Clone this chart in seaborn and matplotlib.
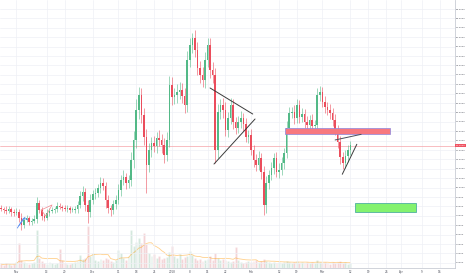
import numpy as np
import pandas as pd
import matplotlib
matplotlib.use("Agg")
import matplotlib.pyplot as plt
import matplotlib.transforms as mtransforms
import seaborn as sns

# ---- data (daily candles, day 0 = 2017-10-26) ----
first_open = 7.80
closes = [7.73, 7.62, 7.51, 7.73, 7.41, 7.30, 7.41, 6.77, 6.02, 6.56,
          6.77, 6.34, 6.45, 6.66, 8.36, 7.62, 6.98, 6.77, 7.30, 7.51,
          7.62, 7.73, 8.05, 7.94, 7.83, 7.73, 7.83, 7.62, 7.62, 7.73,
          8.15, 9.11, 9.53, 8.15, 7.41, 8.68, 9.32, 9.43, 9.96, 10.49,
          10.17, 8.68, 7.83, 7.62, 8.26, 8.68, 9.75, 10.81, 11.13, 10.49,
          10.81, 12.94, 15.07, 18.26, 19.85, 17.72, 15.39, 12.41, 14.00, 14.75,
          14.43, 15.28, 15.07, 14.53, 13.47, 15.07, 20.92, 19.64, 19.85, 20.17,
          20.39, 19.75, 18.79, 23.58, 25.17, 25.92, 24.64, 22.73, 21.98, 21.45,
          23.58, 25.17, 22.51, 21.98, 14.00, 18.05, 18.79, 18.26, 16.13, 17.41,
          18.79, 16.98, 16.34, 16.98, 17.41, 16.77, 15.39, 15.60, 14.00, 12.94,
          12.41, 13.15, 11.66, 8.15, 10.49, 11.34, 12.09, 13.15, 11.66, 11.87,
          12.62, 13.68, 16.34, 17.94, 18.05, 17.41, 18.79, 17.51, 17.83, 16.98,
          16.66, 17.19, 16.56, 16.66, 19.85, 20.17, 19.11, 18.58, 18.26, 17.94,
          17.19, 16.13, 14.85, 13.26, 12.62, 13.36, 14.00, 14.53]
wick_hi = [0.3, 0.2, 0.4, 0.3, 0.2, 0.3, 0.4, 0.3, 0.5, 0.3,
           0.3, 0.2, 0.3, 0.4, 0.6, 0.3, 0.3, 0.2, 0.4, 0.3,
           0.3, 0.2, 0.4, 0.3, 0.2, 0.3, 0.3, 0.2, 0.3, 0.3,
           0.4, 0.5, 0.6, 0.4, 0.5, 0.6, 0.4, 0.5, 0.4, 0.6,
           0.5, 0.4, 0.5, 0.3, 0.4, 0.5, 0.6, 0.5, 0.7, 0.4,
           0.5, 0.8, 1.0, 1.2, 0.9, 0.8, 0.7, 0.9, 0.8, 0.6,
           0.7, 0.6, 0.8, 0.6, 0.7, 0.9, 1.0, 0.8, 0.7, 0.9,
           0.8, 0.7, 0.9, 1.0, 0.8, 0.5, 0.9, 0.8, 0.7, 0.9,
           0.8, 0.7, 0.8, 0.9, 0.7, 0.8, 0.6, 0.7, 0.8, 0.6,
           0.7, 0.6, 0.5, 0.6, 0.7, 0.5, 0.6, 0.5, 0.6, 0.5,
           0.6, 0.7, 0.5, 0.6, 0.7, 0.5, 0.6, 0.5, 0.6, 0.7,
           0.6, 0.5, 0.7, 0.6, 0.5, 0.7, 0.6, 0.5, 0.6, 0.5,
           0.6, 0.5, 0.6, 0.5, 0.7, 0.6, 0.5, 0.6, 0.5, 0.6,
           0.5, 0.6, 0.5, 0.6, 0.5, 0.6, 0.5, 0.4]
wick_lo = [0.2, 0.3, 0.3, 0.2, 0.4, 0.3, 0.2, 0.4, 0.5, 0.3,
           0.2, 0.3, 0.3, 0.2, 0.4, 0.3, 0.4, 0.3, 0.2, 0.3,
           0.2, 0.3, 0.3, 0.2, 0.3, 0.2, 0.3, 0.3, 0.2, 0.3,
           0.4, 0.3, 0.5, 0.6, 1.2, 0.5, 0.4, 0.5, 0.4, 0.5,
           0.4, 0.8, 0.5, 0.6, 0.4, 0.5, 0.4, 0.6, 0.5, 0.6,
           0.5, 0.6, 0.8, 0.9, 1.0, 0.8, 0.9, 3.0, 0.8, 0.7,
           0.6, 0.7, 0.6, 0.8, 0.9, 0.6, 0.8, 0.9, 0.7, 0.8,
           0.7, 0.8, 0.9, 0.7, 0.8, 0.9, 0.7, 0.8, 0.9, 0.7,
           0.8, 0.7, 0.9, 0.8, 1.4, 0.8, 0.7, 0.8, 0.6, 0.7,
           0.6, 0.7, 0.6, 0.5, 0.6, 0.7, 0.5, 0.6, 0.5, 0.7,
           0.6, 0.5, 0.7, 1.1, 0.8, 0.6, 0.5, 0.6, 0.5, 0.6,
           0.5, 0.6, 0.5, 0.6, 0.5, 0.6, 0.5, 0.6, 0.5, 0.6,
           0.5, 0.6, 0.5, 0.6, 0.5, 0.6, 0.5, 0.6, 0.5, 0.6,
           0.6, 0.5, 0.6, 0.7, 0.6, 0.5, 0.6, 0.5]
volumes = [4, 3, 5, 4, 3, 4, 6, 25, 8, 6,
           5, 4, 5, 6, 38, 10, 7, 5, 4, 6,
           5, 4, 5, 19, 8, 5, 4, 4, 5, 6,
           7, 13, 9, 10, 42, 12, 15, 8, 7, 9,
           8, 10, 9, 7, 6, 8, 18, 15, 10, 8,
           12, 38, 22, 26, 30, 25, 35, 24, 15, 12,
           14, 10, 12, 9, 10, 11, 16, 22, 12, 10,
           14, 9, 11, 12, 17, 13, 10, 8, 9, 7,
           8, 9, 12, 8, 15, 10, 8, 9, 8, 7,
           6, 7, 21, 8, 6, 5, 6, 7, 6, 7,
           8, 6, 7, 9, 7, 6, 5, 6, 5, 6,
           5, 6, 7, 6, 5, 6, 7, 5, 6, 5,
           6, 5, 6, 5, 8, 6, 5, 6, 5, 4,
           6, 5, 6, 7, 5, 6, 4, 5]

tick_days = [6, 18, 25, 36, 46, 53, 60, 67, 74, 81, 88, 98, 109, 116,
             126, 137, 144, 151, 157, 165, 172]
tick_labels = ["Nov", "13", "20", "Dec", "11", "18", "25", "2018", "8", "15",
               "22", "Feb", "12", "19", "Mar", "12", "19", "26", "Apr", "9", "16"]
price_ticks = list(range(2, 30))
last_price = 14.46

UP, DOWN = "#53b987", "#eb4d5c"

n = len(closes)
idx = np.arange(n)
opens = [first_open] + closes[:-1]
df = pd.DataFrame({"day": idx, "open": opens, "close": closes,
                   "whi": wick_hi, "wlo": wick_lo, "volume": volumes})
df["high"] = df[["open", "close"]].max(axis=1) + df["whi"]
df["low"] = df[["open", "close"]].min(axis=1) - df["wlo"]
df["dir"] = np.where(df["close"] >= df["open"], "up", "down")
df["vol_ma"] = df["volume"].rolling(9, min_periods=1).mean()

sns.set_style("white")
plt.rcParams["font.family"] = ["DejaVu Sans"]

fig = plt.figure(figsize=(4.66, 2.75), dpi=100)
ax = fig.add_axes([0, 7 / 275, 455 / 466, 268 / 275])
axv = ax.twinx()
ax.set_zorder(axv.get_zorder() + 1)
ax.patch.set_visible(False)

# volume overlay
sns.barplot(data=df, x="day", y="volume", hue="dir", hue_order=["up", "down"],
            palette={"up": UP, "down": DOWN}, native_scale=True, dodge=False,
            errorbar=None, width=0.75, alpha=0.3, legend=False, ax=axv)
sns.lineplot(data=df, x="day", y="vol_ma", color="#ff9800", alpha=0.45,
             lw=0.6, ax=axv)
axv.set_ylim(0, 268)
axv.set_yticks([])
axv.set_ylabel("")
for s in axv.spines.values():
    s.set_visible(False)

# grid
ax.set_xlim(-0.4, 178)
ax.set_ylim(1.45, 29.96)
ax.set_xticks(tick_days)
ax.set_xticklabels(tick_labels)
ax.set_yticks(price_ticks)
ax.set_yticklabels([f"{v:.4f}" for v in price_ticks])
ax.grid(True, color="#eef0f5", lw=0.5)
ax.set_axisbelow(True)
ax.yaxis.tick_right()
ax.tick_params(axis="x", length=0, labelsize=2.0, colors="#50535e", pad=1.2)
ax.tick_params(axis="y", length=0, labelsize=1.7, colors="#50535e", pad=0.6)
ax.set_xlabel("")
ax.set_ylabel("")
for side in ["left", "top"]:
    ax.spines[side].set_visible(False)
for side in ["right", "bottom"]:
    ax.spines[side].set_color("#c9ccd4")
    ax.spines[side].set_linewidth(0.6)

# candles
colors = [UP if d == "up" else DOWN for d in df["dir"]]
ax.vlines(df["day"], df["low"], df["high"], colors=colors, lw=0.4, zorder=3)
body = (df["close"] - df["open"]).abs().clip(lower=0.06)
ax.bar(df["day"], body, bottom=df[["open", "close"]].min(axis=1), width=0.62,
       color=colors, lw=0, zorder=4)

# last price line + label
ax.axhline(last_price, color="#f5a3a8", lw=0.5, zorder=2)
trans = mtransforms.blended_transform_factory(ax.transAxes, ax.transData)
ax.text(1.002, last_price, f"{last_price:.4f}", transform=trans, fontsize=1.7,
        color="white", va="center", ha="left", zorder=10,
        bbox=dict(boxstyle="square,pad=0.4", fc="#ef5362", ec="none"))

# drawings
dk = "#3b3b3b"
ax.plot([81.96, 98.7], [20.60, 17.83], color=dk, lw=0.7, zorder=6)
ax.plot([83.5, 99.6], [12.51, 17.30], color=dk, lw=0.7, zorder=6)
ax.add_patch(plt.Rectangle((111.4, 15.70), 41.1, 0.64, fc="#f7787f",
                           ec="#8a86e0", lw=0.5, zorder=5))
ax.add_patch(plt.Rectangle((138.8, 7.41), 23.9, 0.95, fc="#84f26e",
                           ec="#4fb0a0", lw=0.6, zorder=5))
ax.plot([131.0, 141.2], [15.07, 15.67], color="#4a4f5c", lw=0.7, zorder=6)
ax.plot([133.8, 139.5], [11.42, 14.61], color=dk, lw=0.7, zorder=6)
ax.plot([6.4, 8.8, 10.4], [5.70, 6.75, 6.60], color="#5b8ff0", lw=0.6, zorder=6)
ax.plot([7.0, 9.4], [5.95, 6.85], color="#5b8ff0", lw=0.6, zorder=6)
ax.plot([15.7, 20.0, 17.6, 15.7], [7.62, 8.16, 6.98, 7.62], color="#f08a90",
        lw=0.5, zorder=6)

fig.savefig("out.png", dpi=100)
